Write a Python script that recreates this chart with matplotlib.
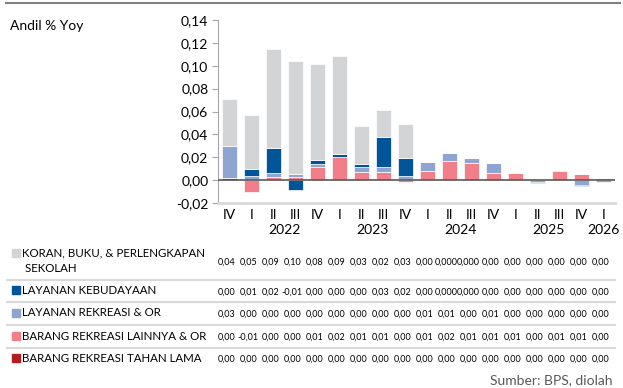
import numpy as np
import matplotlib.pyplot as plt
import matplotlib.transforms as mtrans
from matplotlib.patches import Rectangle
from matplotlib.lines import Line2D

plt.rcParams['font.family'] = ['Lato', 'DejaVu Sans']

# quarters from 2021 Q4 to 2026 Q1
quarters = ['IV', 'I', 'II', 'III', 'IV', 'I', 'II', 'III', 'IV',
            'I', 'II', 'III', 'IV', 'I', 'II', 'III', 'IV', 'I']
years = ['2022', '2023', '2024', '2025', '2026']
year_pos = [2.5, 6.5, 10.5, 14.5, 17]

koran = [0.041, 0.047, 0.087, 0.0985, 0.084, 0.0857, 0.033, 0.024, 0.0295,
         0.0, 0.0, 0.0, 0.0, 0.0, 0.0, 0.0, 0.0, 0.0]
kebudayaan = [0.0, 0.0064, 0.022, -0.0085, 0.003, 0.003, 0.003, 0.0263, 0.0152,
              0.0, 0.0, 0.0, 0.0, 0.0, -0.0008, 0.0, -0.0006, 0.0]
rekreasi = [0.028, 0.0035, 0.0032, 0.0029, 0.0026, 0.0, 0.0047, 0.0044, 0.004,
            0.0076, 0.0064, 0.0044, 0.0094, 0.0003, -0.0015, 0.0008, -0.0045, -0.0017]
lainnya = [0.0, -0.0102, 0.0026, 0.0026, 0.0117, 0.0201, 0.0067, 0.0067, -0.0015,
           0.0082, 0.0169, 0.0146, 0.0058, 0.0058, 0.001, 0.0079, 0.0052, 0.0017]
tahan_lama = [0.002, 0.0, 0.0, 0.0, 0.0, 0.0, 0.0, 0.0, 0.0,
              0.0, 0.0, 0.0, 0.0, 0.0, 0.0, 0.0, 0.0, 0.0]

labels = ['KORAN, BUKU, & PERLENGKAPAN\n SEKOLAH', 'LAYANAN KEBUDAYAAN',
          'LAYANAN REKREASI & OR', 'BARANG REKREASI LAINNYA & OR',
          'BARANG REKREASI TAHAN LAMA']
series = [koran, kebudayaan, rekreasi, lainnya, tahan_lama]
colors = ['#d3d4d6', '#00559a', '#8fa5d1', '#f07f8a', '#b01e23']

# cells printed with three decimals in the table
three_dec = {(0, 10), (0, 11), (1, 10), (1, 11)}

W, H = 623, 388
fig = plt.figure(figsize=(W / 100, H / 100), dpi=100)

def fx(px):
    return px / W

def fy(py):
    return 1 - py / H

ax = fig.add_axes([fx(218), fy(203), fx(615) - fx(218), fy(20) - fy(203)])

x = np.arange(len(quarters))
pos_bottom = np.zeros(len(x))
neg_bottom = np.zeros(len(x))
# stack from the bottom: tahan lama, lainnya, rekreasi, kebudayaan, koran
for vals, col in zip(series[::-1], colors[::-1]):
    v = np.array(vals)
    bottom = np.where(v >= 0, pos_bottom, neg_bottom)
    ax.bar(x, v, 0.68, bottom=bottom, color=col, edgecolor='white', linewidth=0.5)
    pos_bottom += np.where(v >= 0, v, 0)
    neg_bottom += np.where(v < 0, v, 0)

ax.axhline(0, color='#595959', lw=1.2, zorder=3)
ax.set_xlim(-0.52, 17.52)
ax.set_ylim(-0.02, 0.14)
yt = np.arange(-0.02, 0.141, 0.02)
ax.set_yticks(yt)
ax.set_yticklabels([f'{t:.2f}'.replace('.', ',').replace('-0,00', '0,00') for t in yt],
                   fontsize=10)
ax.tick_params(axis='y', length=4, color='#a6a6a6', pad=3)
ax.set_xticks(x)
ax.set_xticklabels(quarters, fontsize=10)
ax.tick_params(axis='x', length=0, pad=4)
for s in ['top', 'right']:
    ax.spines[s].set_visible(False)
ax.spines['left'].set_color('#a6a6a6')
ax.spines['bottom'].set_color('#d9d9d9')
ax.spines['bottom'].set_linewidth(2)

# x in data units, y in figure units
trans = mtrans.blended_transform_factory(ax.transData, fig.transFigure)

for yr, p in zip(years, year_pos):
    ax.text(p, fy(230), yr, transform=trans, ha='center', va='center', fontsize=10)

# top rule, title and source
fig.add_artist(Line2D([fx(6), fx(620)], [fy(3), fy(3)], color='#7f7f7f', lw=1.5))
fig.text(fx(10), fy(26), 'Andil % Yoy', fontsize=10, va='center')
fig.text(fx(612), fy(380), 'Sumber: BPS, diolah', fontsize=10, color='#595959',
         ha='right', va='center')

# data table below the chart
row_y = [262, 292, 314, 337, 359]
label_y = [253, 290, 313, 336, 358]
for r, (lab, vals, col) in enumerate(zip(labels, series, colors)):
    sq_y = label_y[r]
    fig.add_artist(Rectangle((fx(12), fy(sq_y + 4)), fx(8), fy(sq_y - 4) - fy(sq_y + 4),
                             color=col))
    lines = lab.split('\n')
    fig.text(fx(22), fy(sq_y), lines[0], fontsize=8.3, va='center')
    if len(lines) > 1:
        fig.text(fx(22), fy(268), lines[1], fontsize=8.3, va='center')
    for c, v in enumerate(vals):
        d = 3 if (r, c) in three_dec else 2
        s = f'{v:.{d}f}'
        if s.startswith('-') and float(s) == 0:
            s = s[1:]
        ax.text(c - 0.15, fy(row_y[r]), s.replace('.', ','), transform=trans,
                ha='center', va='center', fontsize=6.5)

for ly in [280, 302, 325, 348]:
    fig.add_artist(Line2D([fx(7), fx(615)], [fy(ly), fy(ly)], color='#d9d9d9', lw=1.5))

fig.savefig('out.png', dpi=100)
